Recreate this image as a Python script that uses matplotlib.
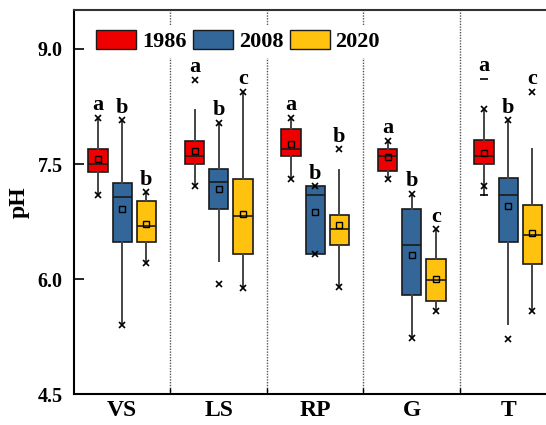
import matplotlib
matplotlib.use('Agg')
import matplotlib.pyplot as plt
import numpy as np
from matplotlib.patches import Patch

plt.rcParams['font.family'] = ['Liberation Serif', 'DejaVu Serif']
plt.rcParams['font.weight'] = 'bold'

# ---------------- data ----------------
groups = ['VS', 'LS', 'RP', 'G', 'T']
years = ['1986', '2008', '2020']
colors = ['#EE0000', '#336699', '#FFC20E']

q1_1986 = [7.40, 7.50, 7.60, 7.41, 7.50]
med_1986 = [7.50, 7.60, 7.70, 7.60, 7.60]
q3_1986 = [7.70, 7.80, 7.95, 7.70, 7.81]
mean_1986 = [7.56, 7.67, 7.76, 7.59, 7.64]
whislo_1986 = [7.10, 7.21, 7.30, 7.30, 7.10]
whishi_1986 = [8.10, 8.20, 8.10, 7.80, 8.21]
p1_1986 = [7.10, 7.21, 7.30, 7.30, 7.21]
p99_1986 = [8.10, 8.60, 8.10, 7.80, 8.21]
min_1986 = [np.nan, np.nan, np.nan, np.nan, 7.10]
max_1986 = [np.nan, np.nan, np.nan, np.nan, 8.61]
letters_1986 = ['a', 'a', 'a', 'a', 'a']

q1_2008 = [6.48, 6.91, 6.33, 5.79, 6.48]
med_2008 = [7.07, 7.26, 7.10, 6.44, 7.09]
q3_2008 = [7.25, 7.43, 7.21, 6.91, 7.32]
mean_2008 = [6.91, 7.17, 6.88, 6.31, 6.95]
whislo_2008 = [5.41, 6.24, 6.33, 5.23, 5.42]
whishi_2008 = [8.07, 8.04, 7.21, 7.11, 8.07]
p1_2008 = [5.41, 5.94, 6.33, 5.23, 5.22]
p99_2008 = [8.07, 8.04, 7.21, 7.11, 8.07]
min_2008 = [np.nan] * 5
max_2008 = [np.nan] * 5
letters_2008 = ['b', 'b', 'b', 'b', 'b']

q1_2020 = [6.48, 6.33, 6.45, 5.72, 6.20]
med_2020 = [6.69, 6.82, 6.65, 5.99, 6.57]
q3_2020 = [7.02, 7.31, 6.84, 6.26, 6.96]
mean_2020 = [6.72, 6.85, 6.70, 6.00, 6.60]
whislo_2020 = [6.21, 5.89, 5.90, 5.59, 5.58]
whishi_2020 = [7.13, 8.44, 7.42, 6.65, 7.69]
p1_2020 = [6.21, 5.89, 5.90, 5.59, 5.58]
p99_2020 = [7.13, 8.44, 7.69, 6.65, 8.44]
min_2020 = [np.nan] * 5
max_2020 = [np.nan] * 5
letters_2020 = ['b', 'c', 'b', 'c', 'c']

yticks = [4.5, 6.0, 7.5, 9.0]

series = [
    (q1_1986, med_1986, q3_1986, mean_1986, whislo_1986, whishi_1986, p1_1986, p99_1986, min_1986, max_1986, letters_1986),
    (q1_2008, med_2008, q3_2008, mean_2008, whislo_2008, whishi_2008, p1_2008, p99_2008, min_2008, max_2008, letters_2008),
    (q1_2020, med_2020, q3_2020, mean_2020, whislo_2020, whishi_2020, p1_2020, p99_2020, min_2020, max_2020, letters_2020),
]

# ---------------- plot ----------------
fig = plt.figure(figsize=(5.46, 4.25), dpi=100)
ax = fig.add_axes([0.1355, 0.072, 0.8837, 0.9035])

centers = np.arange(1, len(groups) + 1)
offsets = [-0.25, 0.0, 0.25]
edge = '#1a1a1a'

for k, (q1, med, q3, mean, wlo, whi, p1, p99, mn, mx, letters) in enumerate(series):
    pos = centers + offsets[k]
    stats = []
    for i in range(len(groups)):
        stats.append(dict(q1=q1[i], med=med[i], q3=q3[i], mean=mean[i],
                          whislo=wlo[i], whishi=whi[i], fliers=[]))
    ax.bxp(stats, positions=pos, widths=0.2, patch_artist=True,
           showmeans=True, meanline=False, showcaps=False, showfliers=False,
           boxprops=dict(facecolor=colors[k], edgecolor=edge, linewidth=1.2),
           medianprops=dict(color=edge, linewidth=1.2),
           whiskerprops=dict(color='#444444', linewidth=1.4),
           meanprops=dict(marker='s', markerfacecolor='none', markeredgecolor='black',
                          markersize=5, markeredgewidth=1.0),
           zorder=3)
    ax.plot(pos, p1, 'x', color='black', markersize=4, markeredgewidth=1.2, zorder=4)
    ax.plot(pos, p99, 'x', color='black', markersize=4, markeredgewidth=1.2, zorder=4)
    ax.plot(pos, mn, '_', color='black', markersize=6, markeredgewidth=1.2, zorder=4)
    ax.plot(pos, mx, '_', color='black', markersize=6, markeredgewidth=1.2, zorder=4)
    tops = np.nanmax(np.vstack([whi, p99, mx]), axis=0)
    for i in range(len(groups)):
        ax.annotate(letters[i], (pos[i], tops[i]), xytext=(0, 5.5),
                    textcoords='offset points', ha='center', va='baseline',
                    fontsize=16, fontweight='bold', zorder=7)

for b in centers[:-1] + 0.5:
    ax.axvline(b, color='#555555', linestyle=(0, (1, 1)), linewidth=1.0, zorder=1)

ax.set_xlim(0.5, len(groups) + 0.5)
ax.set_ylim(4.5, 9.5)
ax.set_yticks(yticks)
ax.set_yticklabels([f'{t:.1f}' for t in yticks], fontsize=14.5, fontweight='bold')
ax.set_xticks(centers[:-1] + 0.5)
ax.set_xticklabels([])
ax.set_xticks(centers, minor=True)
ax.set_xticklabels(groups, minor=True, fontsize=17, fontweight='bold')
ax.tick_params(axis='x', which='major', direction='in', length=4, width=1)
ax.tick_params(axis='x', which='minor', length=0, pad=4)
ax.tick_params(axis='y', direction='in', length=7, width=1.2, pad=8)
ax.set_ylabel('pH', fontsize=17, fontweight='bold', labelpad=6)

for s in ax.spines.values():
    s.set_linewidth(1.5)
ax.spines['top'].set_color('#333333')

handles = [Patch(facecolor=c, edgecolor=edge, linewidth=1.0) for c in colors]
leg = ax.legend(handles, years, loc='upper left', bbox_to_anchor=(0.012, 0.992), ncol=3,
                frameon=True, framealpha=1, facecolor='white', edgecolor='none',
                fancybox=False, handlelength=1.8, handleheight=0.9,
                handletextpad=0.25, columnspacing=0.3, borderpad=0.25,
                prop=dict(size=16, weight='bold'))
leg.set_zorder(6)

fig.savefig('out.png', dpi=100)
